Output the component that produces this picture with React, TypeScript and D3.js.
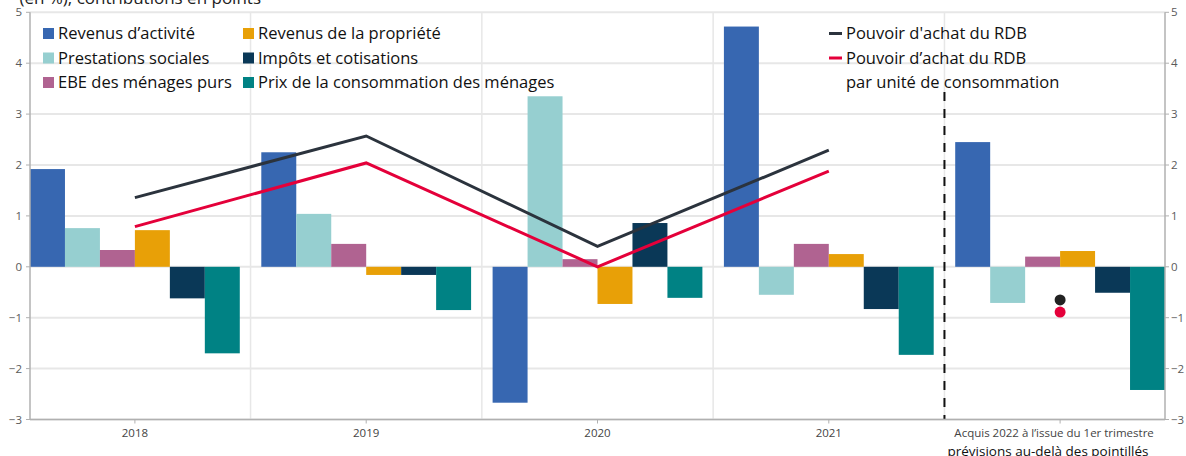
import React from "react";
import * as d3 from "d3";

const categories = ["2018", "2019", "2020", "2021", "Acquis 2022 à l’issue du 1er trimestre"];
const seriesNames = [
  "Revenus d’activité",
  "Prestations sociales",
  "EBE des ménages purs",
  "Revenus de la propriété",
  "Impôts et cotisations",
  "Prix de la consommation des ménages",
];
const seriesColors = ["#3767b1", "#96cfd0", "#b06391", "#e8a007", "#0a3857", "#008284"];

const revenusActivite = [1.92, 2.25, -2.67, 4.72, 2.45];
const prestationsSociales = [0.76, 1.04, 3.35, -0.55, -0.71];
const ebeMenages = [0.33, 0.45, 0.15, 0.45, 0.2];
const revenusPropriete = [0.72, -0.16, -0.73, 0.25, 0.31];
const impotsCotisations = [-0.62, -0.16, 0.86, -0.83, -0.51];
const prixConsommation = [-1.7, -0.85, -0.61, -1.73, -2.42];
const seriesValues = [
  revenusActivite,
  prestationsSociales,
  ebeMenages,
  revenusPropriete,
  impotsCotisations,
  prixConsommation,
];

const pouvoirAchat = [1.36, 2.57, 0.4, 2.29];
const pouvoirAchatUC = [0.79, 2.04, 0.0, 1.88];
const acquisPouvoirAchat = -0.65;
const acquisPouvoirAchatUC = -0.89;
const yTicks = [-3, -2, -1, 0, 1, 2, 3, 4, 5];

const W = 1186;
const H = 456;
const FONT = "'Open Sans', sans-serif";

export default function App() {
  const left = 30;
  const right = 1165;
  const x = d3.scaleBand<string>().domain(categories).range([left, right]).paddingInner(0.093).paddingOuter(0);
  const xs = d3.scaleBand<string>().domain(seriesNames).range([0, x.bandwidth()]).padding(0);
  const y = d3.scaleLinear().domain([-3, 5]).range([419.5, 12.3]);
  const step = x.step();
  const center = (c: string) => (x(c) as number) + x.bandwidth() / 2;
  const boundaries = categories.slice(0, -1).map((c) => (x(c) as number) + x.bandwidth() + (step - x.bandwidth()) / 2);

  const lineGen = d3
    .line<number>()
    .x((_, i) => center(categories[i]))
    .y((v) => y(v));

  const tickColor = "#5a5a5a";
  const axisColor = "#b0b0b0";
  const gridColor = "#e7e7e7";

  const legendLeft = [
    { name: seriesNames[0], color: seriesColors[0], x: 43, y: 33.5 },
    { name: seriesNames[1], color: seriesColors[1], x: 43, y: 58 },
    { name: seriesNames[2], color: seriesColors[2], x: 43, y: 82.5 },
    { name: seriesNames[3], color: seriesColors[3], x: 243, y: 33.5 },
    { name: seriesNames[4], color: seriesColors[4], x: 243, y: 58 },
    { name: seriesNames[5], color: seriesColors[5], x: 243, y: 82.5 },
  ];

  return (
    <svg width={W} height={H} style={{ position: "absolute", left: 0, top: 0, fontFamily: FONT }}>
      <rect width={W} height={H} fill="#fff" />
      {/* title (cut off) */}
      <text x={261} y={4} textAnchor="end" fontSize={17} fill="#222">
        (en %), contributions en points
      </text>
      {/* horizontal grid */}
      {yTicks.map((t) => (
        <line key={"g" + t} x1={left} x2={right} y1={y(t)} y2={y(t)} stroke={gridColor} strokeWidth={2} />
      ))}
      {/* vertical grid */}
      {boundaries.map((b, i) => (
        <line key={"vb" + i} x1={b} x2={b} y1={y(5)} y2={y(-3)} stroke={gridColor} strokeWidth={1.5} />
      ))}
      {/* bars */}
      {categories.map((c, ci) =>
        seriesNames.map((s, si) => {
          const v = seriesValues[si][ci];
          const x0 = (x(c) as number) + (xs(s) as number);
          return (
            <rect
              key={c + s}
              x={x0}
              width={xs.bandwidth()}
              y={Math.min(y(v), y(0))}
              height={Math.abs(y(v) - y(0))}
              fill={seriesColors[si]}
            />
          );
        })
      )}
      {/* lines */}
      <path d={lineGen(pouvoirAchat) || ""} fill="none" stroke="#2b333d" strokeWidth={3} />
      <path d={lineGen(pouvoirAchatUC) || ""} fill="none" stroke="#e4003a" strokeWidth={3} />
      <circle cx={center(categories[4])} cy={y(acquisPouvoirAchat)} r={5.5} fill="#222" />
      <circle cx={center(categories[4])} cy={y(acquisPouvoirAchatUC)} r={5.5} fill="#e4003a" />
      {/* dashed separator */}
      <line
        x1={boundaries[3]}
        x2={boundaries[3]}
        y1={92}
        y2={y(-3)}
        stroke="#111"
        strokeWidth={2}
        strokeDasharray="9,8"
      />
      {/* axes */}
      <line x1={left} x2={left} y1={y(5)} y2={y(-3)} stroke={axisColor} strokeWidth={1.5} />
      <line x1={right} x2={right} y1={y(5)} y2={y(-3)} stroke={axisColor} strokeWidth={1.5} />
      <line x1={left} x2={right} y1={y(-3)} y2={y(-3)} stroke={axisColor} strokeWidth={1.5} />
      {yTicks.map((t) => (
        <g key={"t" + t}>
          <line x1={left - 4} x2={left} y1={y(t)} y2={y(t)} stroke={axisColor} strokeWidth={1} />
          <line x1={right} x2={right + 4} y1={y(t)} y2={y(t)} stroke={axisColor} strokeWidth={1} />
          <text x={22} y={y(t)} dy="0.35em" textAnchor="end" fontSize={11.5} fill={tickColor}>
            {t < 0 ? "\u2212" + Math.abs(t) : String(t)}
          </text>
          <text x={1171} y={y(t)} dy="0.35em" textAnchor="start" fontSize={11.5} fill={tickColor}>
            {t < 0 ? "\u2212" + Math.abs(t) : String(t)}
          </text>
        </g>
      ))}
      {categories.map((c) => (
        <g key={"xt" + c}>
          <line x1={center(c)} x2={center(c)} y1={y(-3)} y2={y(-3) + 4} stroke={axisColor} strokeWidth={1} />
          <text x={center(c) - (c.length > 4 ? 6 : 0)} y={437} textAnchor="middle" fontSize={11.5} fill="#444">
            {c}
          </text>
        </g>
      ))}
      <text x={1048} y={456} textAnchor="middle" fontSize={13.5} fill="#111">
        prévisions au-delà des pointillés
      </text>
      {/* legend */}
      {legendLeft.map((l) => (
        <g key={"l" + l.name}>
          <rect x={l.x} y={l.y - 5.5} width={11} height={11} fill={l.color} />
          <text x={l.x + 15} y={l.y} dy="0.36em" fontSize={16.5} fill="#111">
            {l.name}
          </text>
        </g>
      ))}
      <line x1={829} x2={842} y1={33.5} y2={33.5} stroke="#2b333d" strokeWidth={3} />
      <text x={846} y={33.5} dy="0.36em" fontSize={16.5} fill="#111">
        Pouvoir d'achat du RDB
      </text>
      <line x1={829} x2={842} y1={58} y2={58} stroke="#e4003a" strokeWidth={3} />
      <text x={846} y={58} dy="0.36em" fontSize={16.5} fill="#111">
        Pouvoir d’achat du RDB
      </text>
      <text x={846} y={82.5} dy="0.36em" fontSize={16.5} fill="#111">
        par unité de consommation
      </text>
    </svg>
  );
}
